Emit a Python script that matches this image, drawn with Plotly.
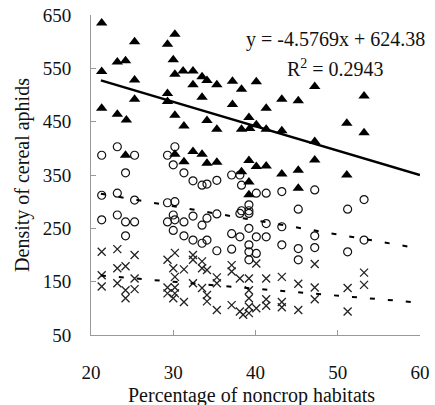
import plotly.graph_objects as go

# Triangles (top group)
tri_x = [21.3, 21.3, 21.3, 23.2, 24.2, 23.2, 24.3, 25.3, 25.3, 25.3, 24.2,
         29.3, 30.2, 30.0, 30.2, 29.3, 29.3, 30.2, 31.3, 31.2, 32.4, 32.4, 33.5, 34.1, 35.3, 33.5, 34.1, 35.3,
         37.2, 38.3, 37.2, 38.3, 39.2, 39.3, 40.1, 40.1, 41.3, 41.3, 43.2, 43.2, 45.2, 47.2, 47.2, 51.1, 53.2, 53.2,
         32.4, 33.5, 34.1, 35.3, 31.3, 30.2, 38.3, 39.2, 40.1, 41.3, 43.2, 45.2, 47.2, 51.1, 39.2, 39.2, 45.2]
tri_y = [635, 544, 475, 562, 564, 464, 453, 600, 528, 492, 387,
         595, 614, 566, 539, 503, 488, 462, 442, 545, 545, 519, 534, 527, 519, 496, 452, 436,
         526, 511, 482, 436, 458, 437, 444, 525, 475, 436, 492, 433, 489, 516, 413, 447, 498, 429,
         394, 389, 372, 374, 375, 389, 356, 377, 366, 367, 352, 359, 378, 350, 337, 313, 325]

# Circles (middle group)
cir_x = [21.3, 21.3, 21.3, 23.2, 23.2, 23.2, 24.2, 24.2, 24.2, 25.3, 25.3, 25.3,
         29.3, 29.3, 29.3, 30.0, 30.0, 30.0, 30.2, 30.2, 30.2, 31.3, 31.3, 31.3,
         32.4, 32.4, 32.4, 33.5, 33.5, 33.5, 34.1, 34.1, 34.1, 35.3, 35.3, 35.3,
         37.1, 37.1, 37.1, 38.1, 38.1, 38.1, 38.3, 38.3,
         39.2, 39.2, 39.2, 39.2, 39.2, 39.2, 39.2, 40.1, 40.1, 40.1, 41.3, 41.3, 41.3,
         43.2, 43.2, 43.2, 45.2, 45.2, 45.2, 47.2, 47.2, 47.2, 51.2, 51.2, 53.2, 53.2]
cir_y = [387, 312, 266, 403, 316, 275, 354, 262, 236, 387, 303, 262,
         387, 298, 262, 369, 275, 246, 403, 300, 266, 354, 262, 236,
         339, 273, 228, 331, 256, 222, 333, 269, 228, 340, 277, 208,
         350, 240, 211, 350, 278, 234, 331, 283,
         294, 283, 278, 250, 219, 206, 191, 316, 234, 203, 316, 259, 234,
         319, 253, 219, 286, 212, 191, 322, 236, 214, 286, 206, 304, 228]

# Crosses (bottom group)
crs_x = [21.3, 21.3, 21.3, 23.2, 23.2, 23.2, 24.2, 24.2, 24.2, 25.3, 25.3, 25.3,
         29.3, 29.3, 29.3, 30.0, 30.0, 30.2, 30.2, 30.2, 30.2, 31.3, 31.3,
         32.4, 32.4, 32.4, 33.5, 33.5, 33.5, 34.1, 34.1, 34.1, 35.3, 35.3, 35.3,
         37.1, 37.1, 37.1, 38.1, 38.1, 38.5, 39.2, 39.2, 39.2, 39.2, 39.2,
         40.1, 40.1, 41.3, 41.3, 41.3, 43.2, 43.2, 43.2, 45.2, 45.2,
         47.2, 47.2, 47.2, 51.2, 51.2, 53.2, 53.2]
crs_y = [206, 162, 141, 211, 175, 147, 179, 134, 119, 200, 156, 136,
         191, 139, 128, 175, 119, 204, 159, 139, 128, 173, 112,
         200, 191, 147, 188, 175, 138, 172, 125, 113, 158, 147, 97,
         181, 169, 106, 156, 94, 88, 156, 134, 119, 103, 91,
         184, 100, 156, 117, 105, 159, 112, 102, 146, 97,
         183, 139, 117, 138, 94, 167, 144]

# Trend lines (slope, intercept) and their x extent
tri_fit = [-4.5769, 624.38]
cir_fit = [-2.65, 371.0]
crs_fit = [-1.31, 189.2]
fit_x = [21.2, 60]

x_ticks = [20, 30, 40, 50, 60]
y_ticks = [50, 150, 250, 350, 450, 550, 650]

font_family = "Liberation Serif, Times New Roman, serif"

fig = go.Figure()

fig.add_trace(go.Scatter(x=crs_x, y=crs_y, mode="markers",
                         marker=dict(symbol="x-thin-open", size=8, color="#222",
                                     line=dict(width=1.3, color="#222"))))
fig.add_trace(go.Scatter(x=cir_x, y=cir_y, mode="markers",
                         marker=dict(symbol="circle-open", size=8, color="#111",
                                     line=dict(width=1.2, color="#111"))))
fig.add_trace(go.Scatter(x=tri_x, y=tri_y, mode="markers",
                         marker=dict(symbol="triangle-up", size=10, color="#000")))

def line_y(fit):
    return [fit[0] * v + fit[1] for v in fit_x]

fig.add_trace(go.Scatter(x=fit_x, y=line_y(tri_fit), mode="lines",
                         line=dict(color="#000", width=2.5)))
fig.add_trace(go.Scatter(x=fit_x, y=line_y(cir_fit), mode="lines",
                         line=dict(color="#000", width=2, dash="5px,13px")))
fig.add_trace(go.Scatter(x=fit_x, y=line_y(crs_fit), mode="lines",
                         line=dict(color="#000", width=2, dash="5px,13px")))

axis_common = dict(showgrid=False, zeroline=False, showline=True, linecolor="#999",
                   linewidth=1, ticks="inside", ticklen=5, tickcolor="#999",
                   automargin=False,
                   tickfont=dict(family=font_family, size=19, color="#111"))

fig.update_xaxes(range=[20, 60], tickvals=x_ticks, ticklabelstandoff=20, **axis_common)
fig.update_yaxes(range=[50, 650], tickvals=y_ticks, ticklabelstandoff=15, **axis_common)

eq_text = "y = %.4fx + %.2f" % (tri_fit[0], tri_fit[1])
fig.add_annotation(xref="paper", yref="paper", x=0.742, y=0.922, text=eq_text,
                   showarrow=False, xanchor="center", yanchor="middle",
                   font=dict(family=font_family, size=20, color="#111"))
fig.add_annotation(xref="paper", yref="paper", x=0.742, y=0.835, text="R<sup>2</sup> = 0.2943",
                   showarrow=False, xanchor="center", yanchor="middle",
                   font=dict(family=font_family, size=20, color="#111"))
fig.add_annotation(xref="paper", yref="paper", x=0.487, y=-0.19, text="Percentage of noncrop habitats",
                   showarrow=False, xanchor="center", yanchor="middle",
                   font=dict(family=font_family, size=20, color="#111"))
fig.add_annotation(xref="paper", yref="paper", x=-0.21, y=0.5, text="Density of cereal aphids",
                   showarrow=False, xanchor="center", yanchor="middle", textangle=-90,
                   font=dict(family=font_family, size=20, color="#111"))

fig.update_layout(width=435, height=405, showlegend=False,
                  margin=dict(l=91, r=15, t=15, b=70),
                  plot_bgcolor="white", paper_bgcolor="white")

fig.write_html("out.html", config={"displayModeBar": False},
               post_script="document.body.style.margin='0';")
